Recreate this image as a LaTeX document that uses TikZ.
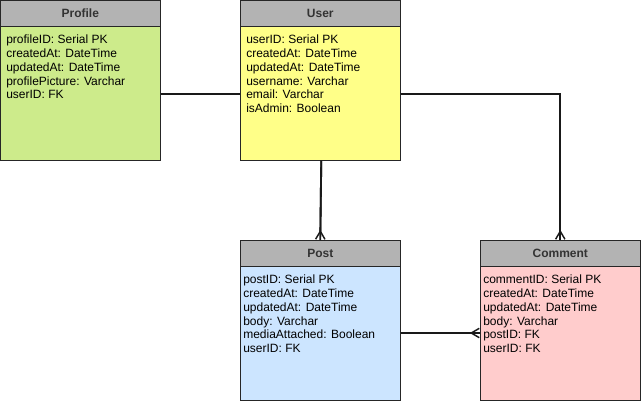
\documentclass[tikz,border=0pt]{standalone}
\usepackage{fontspec}
\setmainfont{Liberation Sans}
\usetikzlibrary{arrows.meta, calc}
\definecolor{hdrgray}{HTML}{B3B3B3}
\definecolor{hdrtext}{HTML}{333333}
\definecolor{profilegreen}{HTML}{CDEB8B}
\definecolor{useryellow}{HTML}{FFFF88}
\definecolor{postblue}{HTML}{CCE5FF}
\definecolor{commentpink}{HTML}{FFCCCC}

\begin{document}
\begin{tikzpicture}
        [x=0.75pt, y=-0.75pt,
        table/.style={draw=black!85, minimum width=120pt, minimum height=120pt,
          anchor=north west, inner sep=0pt},
        header/.style={draw=black!85, fill=hdrgray, minimum width=120pt,
          minimum height=19.5pt, anchor=north west, inner sep=0pt,
          font=\fontsize{9pt}{11pt}\selectfont\bfseries, text=hdrtext},
        fields/.style={anchor=north west, align=left, inner sep=0pt,
          font=\fontsize{9pt}{10.3pt}\selectfont},
        rel/.style={line width=1.4pt, black!90},
        many/.style={rel, -{Straight Barb[reversed, length=6pt, width=7pt, line width=1.1pt]},
          postaction={draw, -}}]
        \useasboundingbox (0,0) rectangle (641,402);
        % tables
        \node (profile) at (0,0) [table, fill=profilegreen] {};
        \node (profilehead) at (0,0) [header] {Profile};
        \node (profilefields) at (6,35) [fields] {profileID: Serial PK\\createdAt: DateTime\\updatedAt: DateTime\\profilePicture: Varchar\\userID: FK};
        \node (user) at (240,0) [table, fill=useryellow] {};
        \node (userhead) at (240,0) [header] {User};
        \node (userfields) at (246,35) [fields] {userID: Serial PK\\createdAt: DateTime\\updatedAt: DateTime\\username: Varchar\\email: Varchar\\isAdmin: Boolean};
        \node (post) at (240,240) [table, fill=postblue] {};
        \node (posthead) at (240,240) [header] {Post};
        \node (postfields) at (243,275) [fields] {postID: Serial PK\\createdAt: DateTime\\updatedAt: DateTime\\body: Varchar\\mediaAttached: Boolean\\userID: FK};
        \node (comment) at (480,240) [table, fill=commentpink] {};
        \node (commenthead) at (480,240) [header] {Comment};
        \node (commentfields) at (483,275) [fields] {commentID: Serial PK\\createdAt: DateTime\\updatedAt: DateTime\\body: Varchar\\postID: FK\\userID: FK};
        % relations
        \draw[rel] ([yshift=-70.5pt]profile.north east) -- ([yshift=-70.5pt]user.north west);
        \draw[many] ([xshift=0.75pt]user.south) -- (post.north);
        \draw[many] ([yshift=-70.5pt]user.north east) -| (comment.north);
        \draw[many] ([yshift=-69.75pt]post.north east) -- ([yshift=-69.75pt]comment.north west);
\end{tikzpicture}
\end{document}
